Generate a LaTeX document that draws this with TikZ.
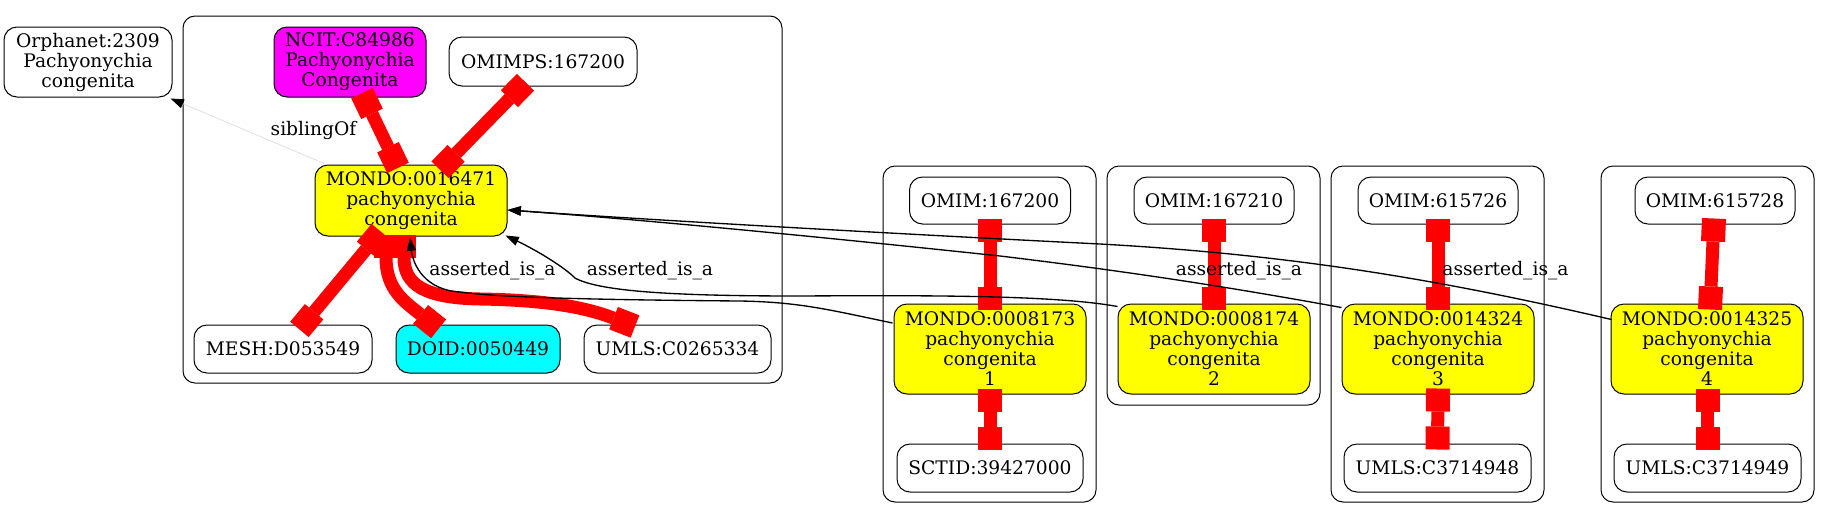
\documentclass[tikz,border=0pt]{standalone}
\usepackage{fontspec}
\setmainfont{DejaVu Serif}
\usetikzlibrary{arrows.meta,calc}
\definecolor{gvyellow}{RGB}{255,255,0}
\definecolor{gvmagenta}{RGB}{255,0,255}
\definecolor{gvcyan}{RGB}{0,255,255}
\definecolor{gvred}{RGB}{255,0,0}
\begin{document}
\begin{tikzpicture}[x=0.75pt,y=-0.75pt,
  nd/.style={draw=black, line width=0.75pt, rounded corners=9.75pt, align=center, inner sep=0pt, font=\fontsize{14}{15}\selectfont},
  sz/.style 2 args={minimum width=#1*0.75pt, minimum height=#2*0.75pt},
  clu/.style={draw=black, line width=0.75pt, rounded corners=9pt},
  redge/.style={draw=gvred, line width=9.75pt, arrows={Square[length=17.25pt,width=18pt,line width=0pt]-Square[length=17.25pt,width=18pt,line width=0pt]}},
  isa/.style={draw=black, line width=1pt, -{Triangle[length=10pt,width=7pt]}},
  sib/.style={draw=gray!25, line width=0.6pt, -{Triangle[length=10pt,width=7pt,color=black]}},
  lbl/.style={font=\fontsize{14}{15}\selectfont, inner sep=0pt, anchor=base}]
\useasboundingbox (0,0) rectangle (1830,519);
% clusters
\draw[clu] (183,16) rectangle (782,383);
\draw[clu] (883,166) rectangle (1096,502);
\draw[clu] (1107,166) rectangle (1320,405);
\draw[clu] (1331,166) rectangle (1544,502);
\draw[clu] (1601,166) rectangle (1814,502);
% nodes
\node[nd,sz={168}{70}] (orph) at (88,62) {Orphanet:2309\\Pachyonychia\\congenita};
\node[nd,sz={152}{70},fill=gvmagenta] (ncit) at (350,62) {NCIT:C84986\\Pachyonychia\\Congenita};
\node[nd,sz={188}{49}] (omimps) at (543,61.5) {OMIMPS:167200};
\node[nd,sz={192}{71},fill=gvyellow] (m0) at (411,200.5) {MONDO:0016471\\pachyonychia\\congenita};
\node[nd,sz={178}{48}] (mesh) at (283,349) {MESH:D053549};
\node[nd,sz={164}{48},fill=gvcyan] (doid) at (478,349) {DOID:0050449};
\node[nd,sz={187}{48}] (umls0) at (677.5,349) {UMLS:C0265334};
\node[nd,sz={161}{47}] (o1) at (990,200.5) {OMIM:167200};
\node[nd,sz={192}{90},fill=gvyellow] (m1) at (990,349) {MONDO:0008173\\pachyonychia\\congenita\\1};
\node[nd,sz={186}{48}] (s1) at (990,468) {SCTID:39427000};
\node[nd,sz={160}{47}] (o2) at (1214,200.5) {OMIM:167210};
\node[nd,sz={192}{90},fill=gvyellow] (m2) at (1214,349) {MONDO:0008174\\pachyonychia\\congenita\\2};
\node[nd,sz={160}{47}] (o3) at (1438,200.5) {OMIM:615726};
\node[nd,sz={192}{90},fill=gvyellow] (m3) at (1438,349) {MONDO:0014324\\pachyonychia\\congenita\\3};
\node[nd,sz={187}{48}] (u3) at (1437.5,468) {UMLS:C3714948};
\node[nd,sz={160}{47}] (o4) at (1715,200.5) {OMIM:615728};
\node[nd,sz={192}{90},fill=gvyellow] (m4) at (1707,349) {MONDO:0014325\\pachyonychia\\congenita\\4};
\node[nd,sz={187}{48}] (u4) at (1707.5,468) {UMLS:C3714949};
% siblingOf
\draw[sib] ($(m0.north west)+(12,0)$) -- ($(orph.south east)+(-2,1)$);
\node[lbl] (lsib) at (313.5,135) {siblingOf};
% red edges, cluster 1
\draw[redge] ($(ncit.south)+(12,-4.4)$) -- ($(m0.north)+(-13,3.4)$);
\draw[redge] ($(omimps.south)+(-17.5,-4.3)$) -- ($(m0.north)+(29,5.3)$);
\draw[redge] ($(m0.south)+(-30.2,-4.9)$) -- ($(mesh.north)+(16.4,4.9)$);
\draw[redge] ($(m0.south)+(-25,-2)$) .. controls (386,290) and (405,302) .. ($(doid.north)+(-39.4,4.3)$);
\draw[redge] ($(m0.south)+(-7,-2)$) .. controls (404,285) and (425,298) .. (480,299) .. controls (545,300) and (585,307) .. ($(umls0.north)+(-42.5,2)$);
% red edges, other clusters
\draw[redge] ($(o1.south)+(0,-6)$) -- ($(m1.north)+(0,6)$);
\draw[redge] ($(m1.south)+(0,-6)$) -- ($(s1.north)+(0,6)$);
\draw[redge] ($(o2.south)+(0,-6)$) -- ($(m2.north)+(0,6)$);
\draw[redge] ($(o3.south)+(0,-6)$) -- ($(m3.north)+(0,6)$);
\draw[redge] ($(m3.south)+(0,-6)$) -- ($(u3.north)+(0,6)$);
\draw[redge] ($(o4.south)+(-1,-6)$) -- ($(m4.north)+(3,6)$);
\draw[redge] ($(m4.south)+(0.5,-6)$) -- ($(u4.north)+(0,6)$);
% asserted_is_a edges
\draw[isa] ($(m1.west)+(-1,-26)$) .. controls (830,310) and (800,302) .. (740,301) .. controls (620,300) and (500,298) .. (460,292) .. controls (425,290) and (413,265) .. ($(m0.south)+(-1,1)$);
\draw[isa] ($(m2.north west)+(0,3)$) .. controls (1060,296) and (950,295) .. (800,296) .. controls (680,296) and (600,292) .. (575,278) .. controls (565,268) and (540,252) .. ($(m0.south east)+(-2,-1)$);
\draw[isa] ($(m3.north west)+(0,4)$) .. controls (1250,291) and (1150,274) .. (1000,256) .. controls (850,240) and (650,220) .. ($(m0.east)+(0,9.5)$);
\draw[isa] ($(m4.north west)+(1,16)$) .. controls (1450,282) and (1300,255) .. (1100,244) .. controls (900,234) and (650,220) .. ($(m0.east)+(0,9.5)$);
\node[lbl] (l1) at (492.5,275) {asserted\_is\_a};
\node[lbl] (l2) at (650,275) {asserted\_is\_a};
\node[lbl] (l3) at (1239,275) {asserted\_is\_a};
\node[lbl] (l4) at (1505.5,275) {asserted\_is\_a};
\end{tikzpicture}
\end{document}
